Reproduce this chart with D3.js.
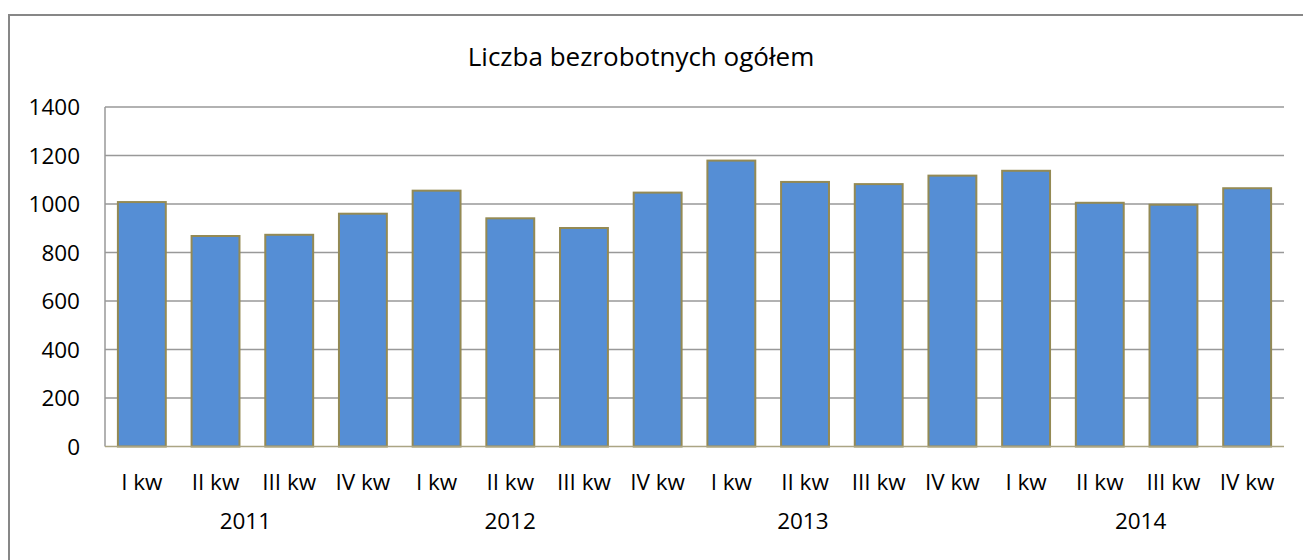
<!DOCTYPE html>
<html lang="pl">
<head>
	<meta charset="UTF-8">
	<title>Liczba bezrobotnych ogółem</title>
	<style>
		body { margin: 0; background: #fff; }
		svg { display: block; }
	</style>
</head>
<body>
	<div id="chart"></div>

	<script src="https://cdnjs.cloudflare.com/ajax/libs/d3/7.8.5/d3.min.js"></script>
	<script type="text/javascript">

	// data
	var quarters = ['I kw', 'II kw', 'III kw', 'IV kw'];
	var years = ['2011', '2012', '2013', '2014'];
	var values = [1008, 868, 873, 960, 1055, 941, 901, 1047, 1179, 1091, 1082, 1117, 1137, 1005, 997, 1065];
	var yTicks = [0, 200, 400, 600, 800, 1000, 1200, 1400];

	// Excel places the year labels a bit off the group centre
	var yearNudge = [-7, -37, -39, 4];

	var width = 1303;
	var height = 560;
	var plot = { left: 105, right: 1284, top: 107, bottom: 446.5 };

	var fillColor = '#558ED5';
	var edgeColor = '#948A54';
	var gridColor = '#999999';
	var font = '"Open Sans", "Noto Sans", sans-serif';
	var tickSize = 22.5;

	var cats = [];
	years.forEach(function(y) {
		quarters.forEach(function(q) { cats.push(y + ' ' + q); });
	});

	var svg = d3.select('#chart')
		.append('svg')
		.attr('width', width)
		.attr('height', height);

	// outer chart border (runs off the picture on the right and bottom)
	svg.append('rect')
		.attr('x', 9)
		.attr('y', 15)
		.attr('width', width + 20)
		.attr('height', height + 20)
		.attr('fill', 'none')
		.attr('stroke', '#878787')
		.attr('stroke-width', 2);

	var x = d3.scaleBand()
		.domain(cats)
		.range([plot.left, plot.right])
		.paddingInner(0.35)
		.paddingOuter(0.175);

	var y = d3.scaleLinear()
		.domain([0, 1400])
		.range([plot.bottom, plot.top]);

	// title
	svg.append('text')
		.attr('x', 641)
		.attr('y', 66)
		.attr('text-anchor', 'middle')
		.attr('font-family', font)
		.attr('font-size', 26)
		.attr('fill', '#000')
		.text('Liczba bezrobotnych ogółem');

	// gridlines
	svg.append('g')
		.selectAll('line')
		.data(yTicks.filter(function(d) { return d > 0; }))
		.enter()
		.append('line')
		.attr('x1', plot.left)
		.attr('x2', plot.right)
		.attr('y1', function(d) { return y(d); })
		.attr('y2', function(d) { return y(d); })
		.attr('stroke', gridColor)
		.attr('stroke-width', 1.5);

	// y axis line
	svg.append('line')
		.attr('x1', plot.left)
		.attr('x2', plot.left)
		.attr('y1', plot.top)
		.attr('y2', plot.bottom)
		.attr('stroke', gridColor)
		.attr('stroke-width', 1.5);

	// y tick labels
	svg.append('g')
		.selectAll('text')
		.data(yTicks)
		.enter()
		.append('text')
		.attr('x', 80)
		.attr('y', function(d) { return y(d); })
		.attr('dy', '0.36em')
		.attr('text-anchor', 'end')
		.attr('font-family', font)
		.attr('font-size', tickSize)
		.attr('fill', '#000')
		.text(function(d) { return d; });

	// bars
	svg.append('g')
		.selectAll('rect')
		.data(values)
		.enter()
		.append('rect')
		.attr('x', function(d, i) { return x(cats[i]); })
		.attr('y', function(d) { return y(d); })
		.attr('width', x.bandwidth())
		.attr('height', function(d) { return y(0) - y(d); })
		.attr('fill', fillColor)
		.attr('stroke', edgeColor)
		.attr('stroke-width', 2);

	// x axis line
	svg.append('line')
		.attr('x1', plot.left)
		.attr('x2', plot.right)
		.attr('y1', y(0))
		.attr('y2', y(0))
		.attr('stroke', '#aba584')
		.attr('stroke-width', 1.5);

	// quarter labels
	svg.append('g')
		.selectAll('text')
		.data(cats)
		.enter()
		.append('text')
		.attr('x', function(d) { return x(d) + x.bandwidth() / 2; })
		.attr('y', 490)
		.attr('text-anchor', 'middle')
		.attr('font-family', font)
		.attr('font-size', tickSize)
		.attr('fill', '#000')
		.text(function(d) { return d.split(' ').slice(1).join(' '); });

	// year labels, centred under each group of four quarters
	svg.append('g')
		.selectAll('text')
		.data(years)
		.enter()
		.append('text')
		.attr('x', function(d, i) {
			var first = x(d + ' ' + quarters[0]);
			var last = x(d + ' ' + quarters[quarters.length - 1]) + x.bandwidth();
			return (first + last) / 2 + yearNudge[i];
		})
		.attr('y', 529)
		.attr('text-anchor', 'middle')
		.attr('font-family', font)
		.attr('font-size', tickSize)
		.attr('fill', '#000')
		.text(function(d) { return d; });

	</script>
</body>
</html>
